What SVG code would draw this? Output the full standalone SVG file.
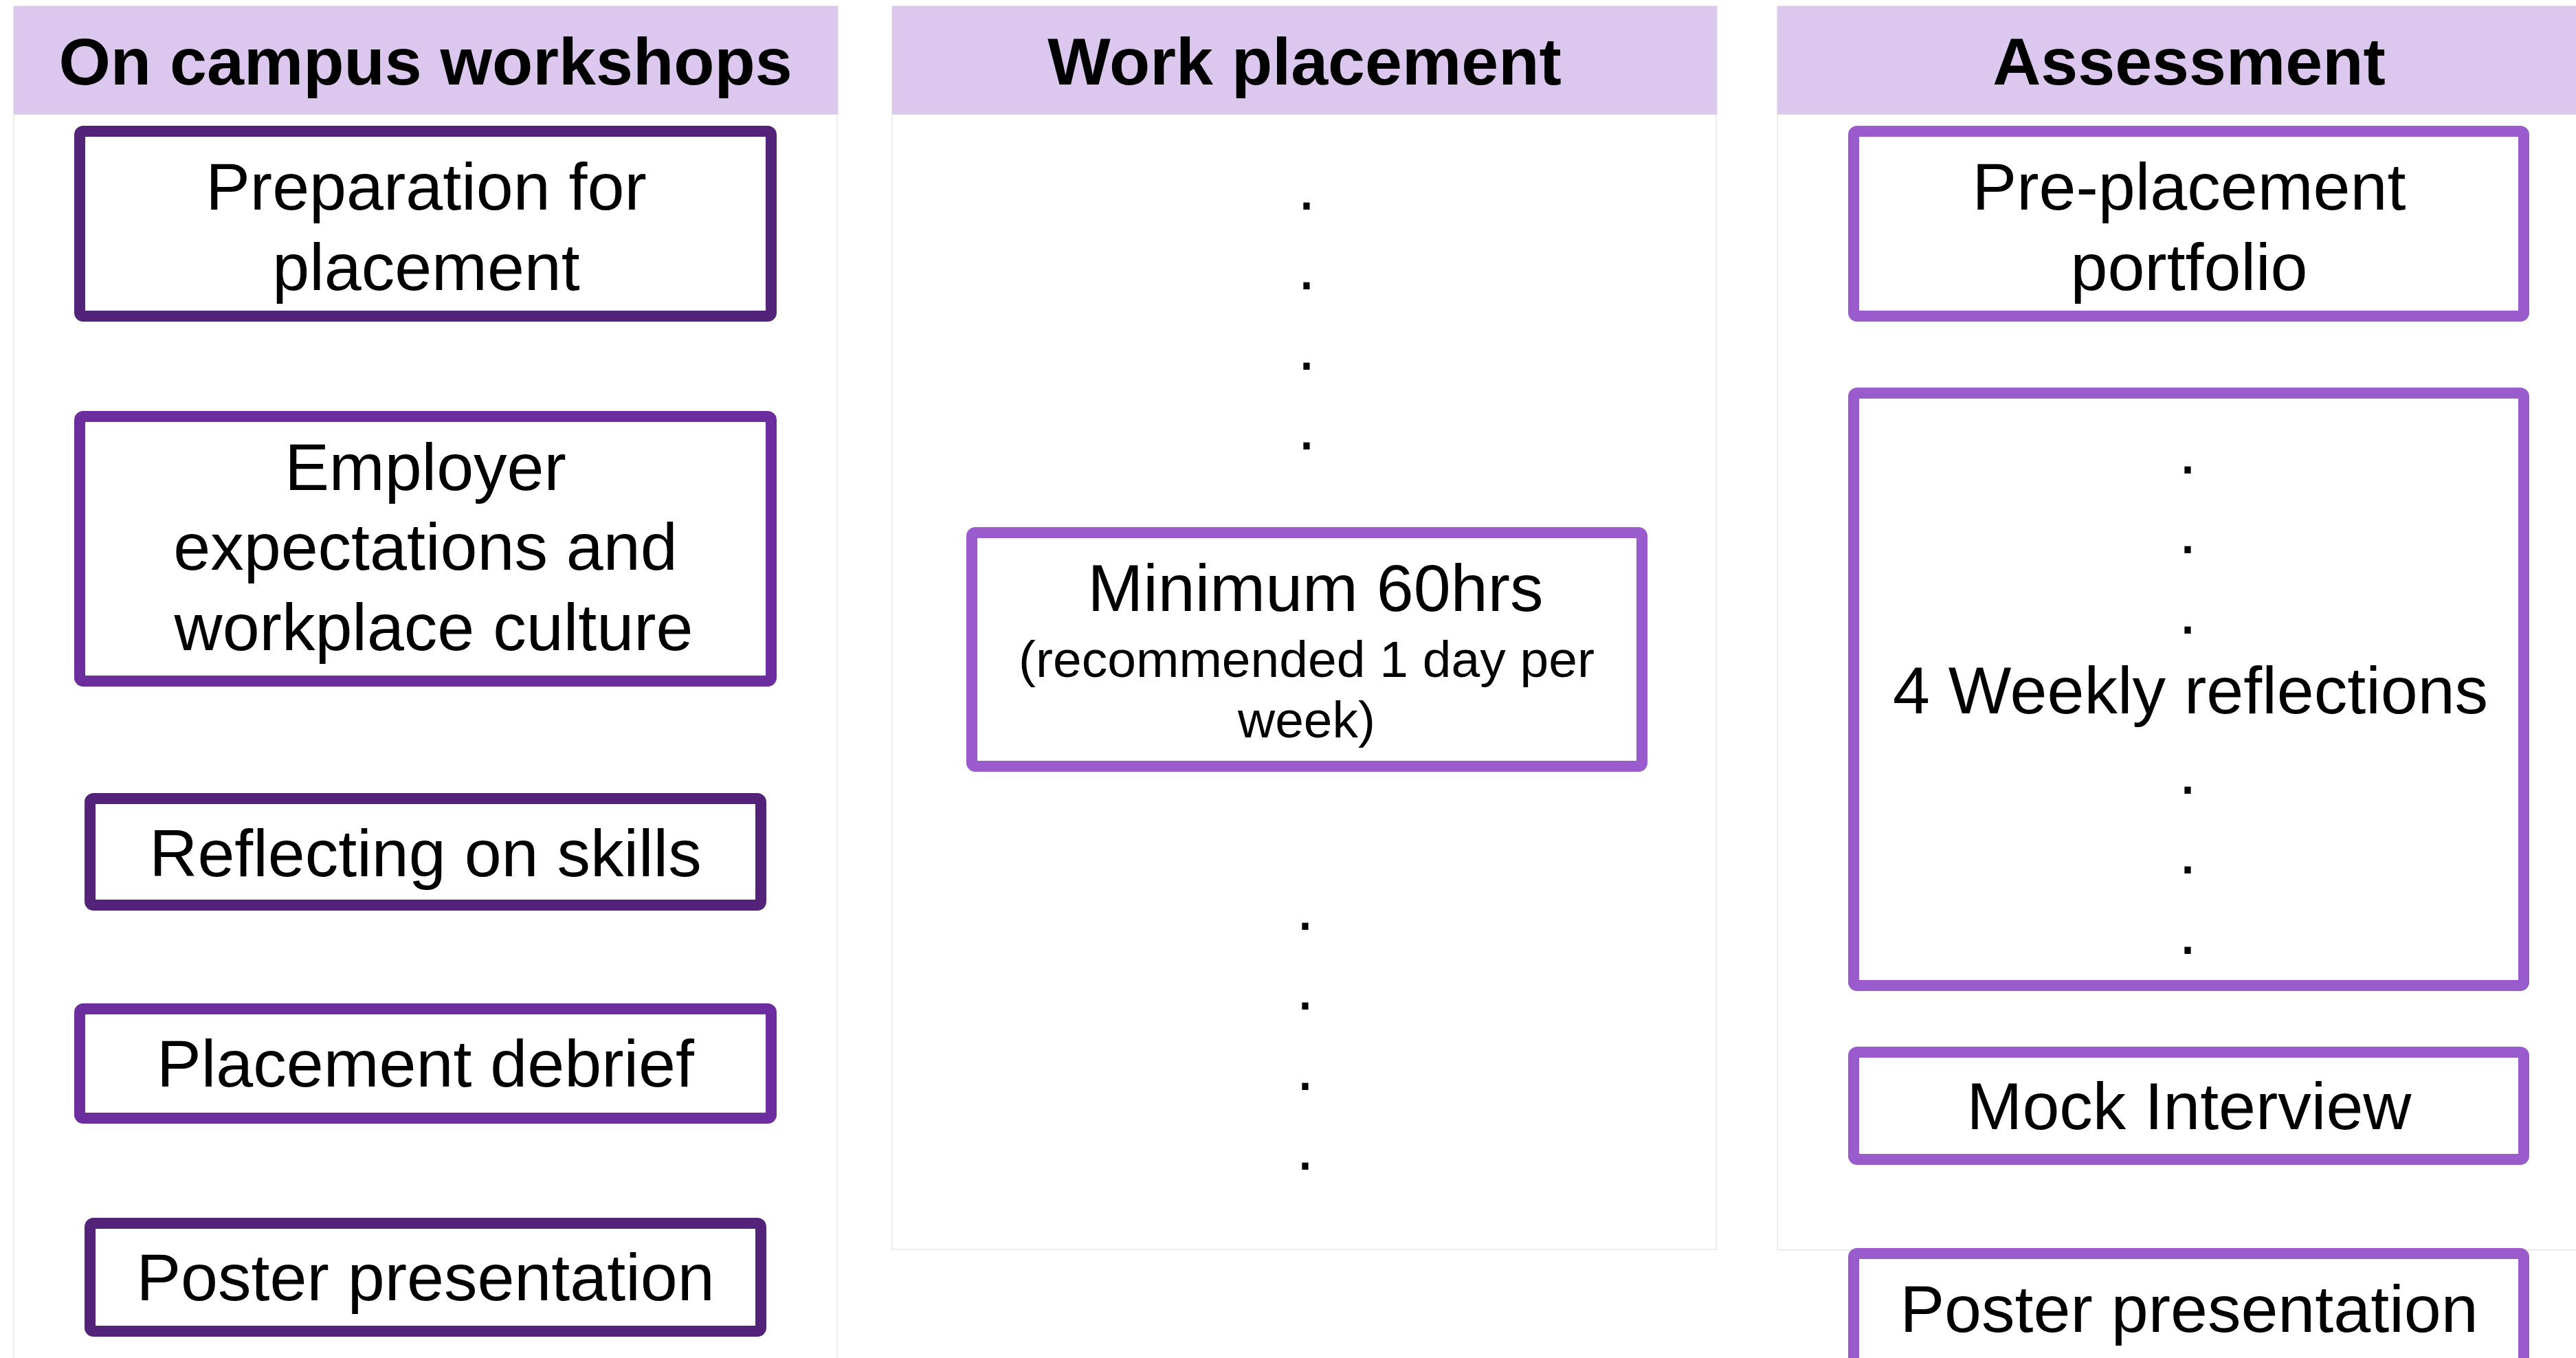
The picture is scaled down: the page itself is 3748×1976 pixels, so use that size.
<svg xmlns="http://www.w3.org/2000/svg" width="3748" height="1976" viewBox="0 0 3748 1976">
<style>
.bg{fill:#ffffff}
.col{fill:#ffffff;stroke:#ececec;stroke-width:2}
.hdr{fill:#dcc8ee;stroke:#d8d0de;stroke-width:1}
.ht{font-family:"Liberation Sans",Arial,sans-serif;font-weight:bold;font-size:97px;fill:#000;text-anchor:middle}
.t{font-family:"Liberation Sans",Arial,sans-serif;font-size:97px;fill:#000;text-anchor:middle}
.ts{font-family:"Liberation Sans",Arial,sans-serif;font-size:75px;fill:#000;text-anchor:middle}
.box{fill:#ffffff;stroke-width:16}
.dark{stroke:#53237a}
.mid{stroke:#6c2e9e}
.light{stroke:#9a5bcc}
</style>
<rect class="bg" x="0" y="0" width="3748" height="1976"/>
<g id="col-workshops">
<rect class="col" x="20" y="166" width="1198" height="1840"/>
<rect class="hdr" x="20" y="9" width="1199" height="157"/>
<text class="ht" x="619" y="123">On campus workshops</text>
</g>
<g id="col-placement">
<rect class="col" x="1298" y="166" width="1199" height="1652"/>
<rect class="hdr" x="1298" y="9" width="1200" height="157"/>
<text class="ht" x="1898" y="123">Work placement</text>
</g>
<g id="col-assessment">
<rect class="col" x="2586" y="166" width="1200" height="1653"/>
<rect class="hdr" x="2586" y="9" width="1200" height="157"/>
<text class="ht" x="3185" y="123">Assessment</text>
</g>
<g id="n-prep">
<rect class="box dark" x="116" y="191" width="1006" height="269" rx="5"/>
<text class="t" x="620" y="305">Preparation for</text>
<text class="t" x="620" y="422">placement</text>
</g>
<g id="n-employer">
<rect class="box mid" x="116" y="606" width="1006" height="385" rx="5"/>
<text class="t" x="619" y="713">Employer</text>
<text class="t" x="619" y="829">expectations and</text>
<text class="t" x="631" y="946">workplace culture</text>
</g>
<g id="n-reflecting">
<rect class="box dark" x="131" y="1162" width="976" height="155" rx="5"/>
<text class="t" x="619" y="1275">Reflecting on skills</text>
</g>
<g id="n-debrief">
<rect class="box mid" x="116" y="1468" width="1006" height="159" rx="5"/>
<text class="t" x="619" y="1581">Placement debrief</text>
</g>
<g id="n-poster1">
<rect class="box dark" x="131" y="1780" width="976" height="157" rx="5"/>
<text class="t" x="619" y="1892">Poster presentation</text>
</g>
<g id="n-dots-top">
<text class="t" x="1901" y="305">.</text>
<text class="t" x="1901" y="421">.</text>
<text class="t" x="1901" y="538">.</text>
<text class="t" x="1901" y="654">.</text>
</g>
<g id="n-minimum">
<rect class="box light" x="1414" y="775" width="975" height="340" rx="5"/>
<text class="t" x="1914" y="889">Minimum 60hrs</text>
<text class="ts" x="1901" y="985">(recommended 1 day per</text>
<text class="ts" x="1901" y="1073">week)</text>
</g>
<g id="n-dots-bottom">
<text class="t" x="1899" y="1353">.</text>
<text class="t" x="1899" y="1469">.</text>
<text class="t" x="1899" y="1586">.</text>
<text class="t" x="1899" y="1702">.</text>
</g>
<g id="n-portfolio">
<rect class="box light" x="2697" y="191" width="975" height="269" rx="5"/>
<text class="t" x="3185" y="305">Pre-placement</text>
<text class="t" x="3185" y="422">portfolio</text>
</g>
<g id="n-weekly">
<rect class="box light" x="2697" y="572" width="975" height="862" rx="5"/>
<text class="t" x="3183" y="689">.</text>
<text class="t" x="3183" y="805">.</text>
<text class="t" x="3183" y="922">.</text>
<text class="t" x="3187" y="1038">4 Weekly reflections</text>
<text class="t" x="3183" y="1155">.</text>
<text class="t" x="3183" y="1271">.</text>
<text class="t" x="3183" y="1388">.</text>
</g>
<g id="n-mock">
<rect class="box light" x="2697" y="1531" width="975" height="156" rx="5"/>
<text class="t" x="3185" y="1643">Mock Interview</text>
</g>
<g id="n-poster2">
<rect class="box light" x="2697" y="1824" width="975" height="200" rx="5"/>
<text class="t" x="3185" y="1938">Poster presentation</text>
</g>
<g id="connectors"></g>
</svg>
